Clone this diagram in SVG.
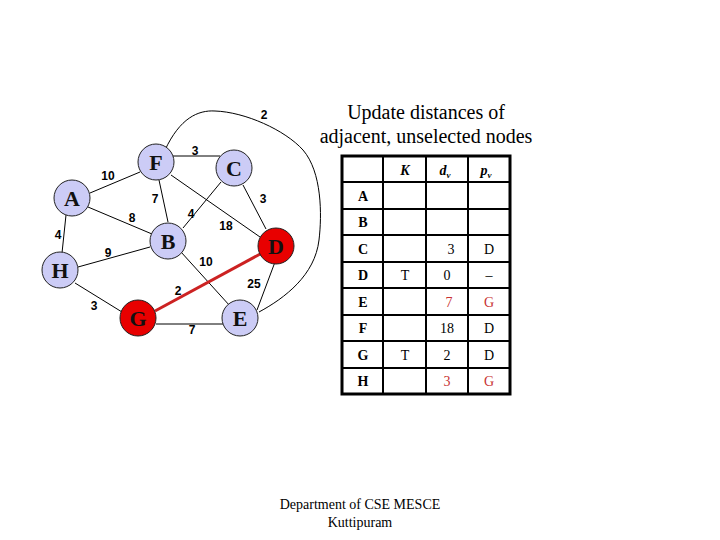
<svg xmlns="http://www.w3.org/2000/svg" width="720" height="540" viewBox="0 0 720 540">
<style>
.e{stroke:#000;stroke-width:1;fill:none}
.n{fill:#ccccf6;stroke:#222;stroke-width:1}
.r{fill:#e80000;stroke:#222;stroke-width:1}
.nl{font-family:"Liberation Serif",serif;font-weight:bold;font-size:22px;text-anchor:middle;fill:#111}
.w{font-family:"Liberation Sans",sans-serif;font-weight:bold;font-size:12px;text-anchor:middle;fill:#000}
.t{font-family:"Liberation Serif",serif;font-size:20px;text-anchor:middle;fill:#000}
.c{font-family:"Liberation Serif",serif;font-size:14px;text-anchor:middle;fill:#000}
.b{font-weight:bold}
.h{font-weight:bold;font-style:italic}
.red{fill:#c83232}
.g{stroke:#000;stroke-width:2}
.f{font-family:"Liberation Serif",serif;font-size:14px;text-anchor:middle;fill:#000}
</style>
<rect width="720" height="540" fill="#fff"/>
<g id="connectors">
<line class="e" x1="173" y1="156" x2="220" y2="156"/>
<line class="e" x1="90" y1="193" x2="140" y2="172"/>
<line class="e" x1="159" y1="180" x2="168" y2="222"/>
<line class="e" x1="88" y1="207" x2="152" y2="234"/>
<line class="e" x1="66" y1="215" x2="62" y2="253"/>
<line class="e" x1="78" y1="267" x2="150" y2="247"/>
<line class="e" x1="171" y1="175" x2="260" y2="237"/>
<line class="e" x1="221" y1="182" x2="183" y2="228"/>
<line class="e" x1="243" y1="185" x2="266" y2="229"/>
<line class="e" x1="181" y1="252" x2="230" y2="306"/>
<line class="e" x1="275" y1="262" x2="257" y2="310"/>
<line class="e" x1="75" y1="283" x2="122" y2="312"/>
<line class="e" x1="156" y1="324" x2="223" y2="324"/>
<path class="e" d="M165,150 C180,118 198,110 215,111 C245,112 285,130 303,150 C322,172 322,215 319,240 C315,275 285,298 259,312"/>
<line x1="155" y1="311" x2="262" y2="253" stroke="#cc2222" stroke-width="3"/>
<text class="w" x="264" y="119">2</text>
<text class="w" x="195" y="155">3</text>
<text class="w" x="108" y="180">10</text>
<text class="w" x="155" y="203">7</text>
<text class="w" x="132" y="222">8</text>
<text class="w" x="191" y="218">4</text>
<text class="w" x="263" y="203">3</text>
<text class="w" x="226" y="230">18</text>
<text class="w" x="58" y="239">4</text>
<text class="w" x="108" y="257">9</text>
<text class="w" x="206" y="266">10</text>
<text class="w" x="178" y="295">2</text>
<text class="w" x="254" y="288">25</text>
<text class="w" x="94" y="310">3</text>
<text class="w" x="192" y="334">7</text>
</g>
<g id="node-F"><circle class="n" cx="156" cy="162" r="18"/><text class="nl" x="156" y="170">F</text></g>
<g id="node-C"><circle class="n" cx="234" cy="168" r="18"/><text class="nl" x="234" y="176">C</text></g>
<g id="node-A"><circle class="n" cx="72" cy="198" r="18"/><text class="nl" x="72" y="206">A</text></g>
<g id="node-B"><circle class="n" cx="168" cy="241" r="18"/><text class="nl" x="168" y="249">B</text></g>
<g id="node-D"><circle class="r" cx="276" cy="246" r="18"/><text class="nl" x="276" y="254">D</text></g>
<g id="node-H"><circle class="n" cx="60" cy="270" r="18"/><text class="nl" x="60" y="278">H</text></g>
<g id="node-G"><circle class="r" cx="138" cy="318" r="18"/><text class="nl" x="138" y="326">G</text></g>
<g id="node-E"><circle class="n" cx="240" cy="318" r="18"/><text class="nl" x="240" y="326">E</text></g>
<g id="title">
<text class="t" x="426" y="119">Update distances of</text>
<text class="t" x="426" y="143">adjacent, unselected nodes</text>
</g>
<g id="table">
<g class="g">
<line x1="383" y1="156" x2="383" y2="394"/>
<line x1="426" y1="156" x2="426" y2="394"/>
<line x1="468" y1="156" x2="468" y2="394"/>
<line x1="342" y1="182" x2="510" y2="182"/>
<line x1="342" y1="209" x2="510" y2="209"/>
<line x1="342" y1="235" x2="510" y2="235"/>
<line x1="342" y1="262" x2="510" y2="262"/>
<line x1="342" y1="288" x2="510" y2="288"/>
<line x1="342" y1="315" x2="510" y2="315"/>
<line x1="342" y1="341" x2="510" y2="341"/>
<line x1="342" y1="368" x2="510" y2="368"/>
</g>
<rect x="342" y="156" width="168" height="238" fill="none" stroke="#000" stroke-width="3"/>
<text class="c h" x="405" y="175">K</text>
<text class="c h" x="445" y="175">d<tspan font-size="9" dy="3">v</tspan></text>
<text class="c h" x="486" y="175">p<tspan font-size="9" dy="3">v</tspan></text>
<text class="c b" x="363" y="201">A</text>
<text class="c b" x="363" y="227">B</text>
<text class="c b" x="363" y="254">C</text>
<text class="c b" x="363" y="280">D</text>
<text class="c b" x="363" y="307">E</text>
<text class="c b" x="363" y="333">F</text>
<text class="c b" x="363" y="360">G</text>
<text class="c b" x="363" y="386">H</text>
<text class="c" x="451" y="254">3</text>
<text class="c" x="489" y="254">D</text>
<text class="c" x="405" y="280">T</text>
<text class="c" x="447" y="280">0</text>
<text class="c" x="489" y="280">–</text>
<text class="c red" x="449" y="307">7</text>
<text class="c red" x="489" y="307">G</text>
<text class="c" x="447" y="333">18</text>
<text class="c" x="489" y="333">D</text>
<text class="c" x="405" y="360">T</text>
<text class="c" x="447" y="360">2</text>
<text class="c" x="489" y="360">D</text>
<text class="c red" x="447" y="386">3</text>
<text class="c red" x="489" y="386">G</text>
</g>
<g id="footer">
<text class="f" x="360" y="509">Department of CSE MESCE</text>
<text class="f" x="360" y="527">Kuttipuram</text>
</g>
</svg>
